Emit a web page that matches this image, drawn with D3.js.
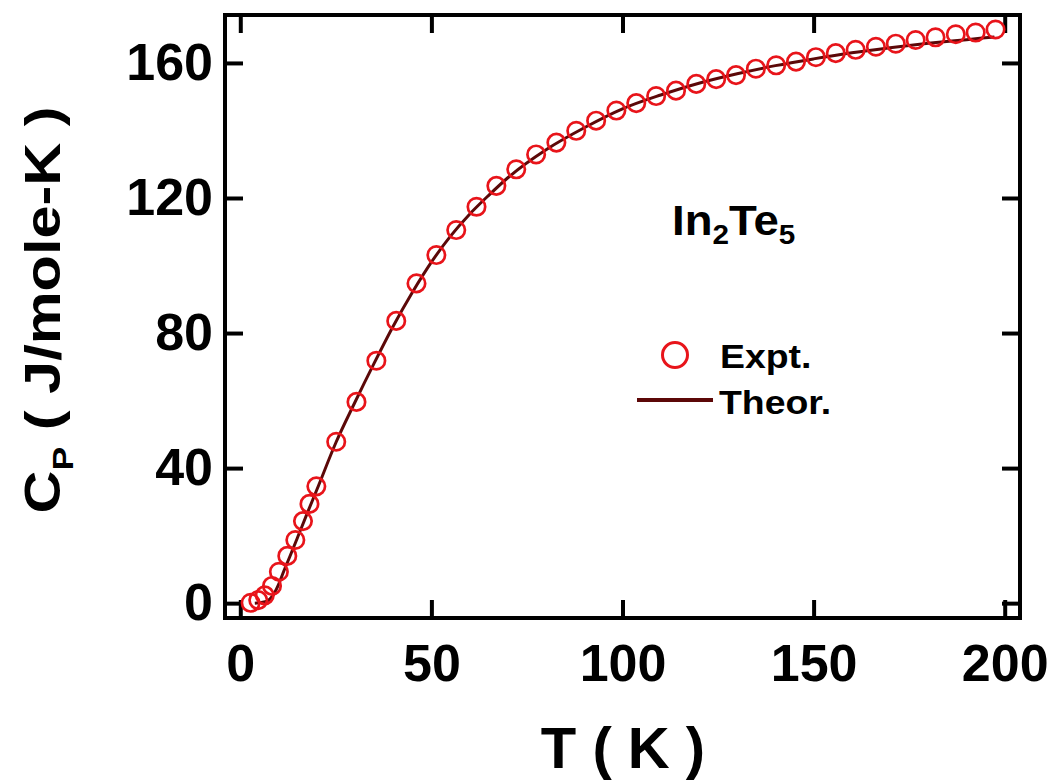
<!DOCTYPE html>
<html>
<head>
<meta charset="utf-8">
<script src="https://cdn.jsdelivr.net/npm/d3@7"></script>
<style>
  body { margin: 0; background: #fff; }
  svg text { font-family: "Liberation Sans", Arial, sans-serif; font-weight: bold; fill: #000; }
</style>
</head>
<body>
<div id="chart"></div>
<script>
// Experimental points (T in K, Cp in J/mole-K)
const tExpt = [2.7, 4.7, 6.4, 8.3, 10.1, 12.3, 14.4, 16.4, 18.1,
  19.9, 25.1, 30.4, 35.6, 40.8, 46.1, 51.3, 56.5, 61.8, 67.0, 72.2, 77.4,
  82.7, 87.9, 93.1, 98.4, 103.6, 108.8, 114.0, 119.3, 124.5, 129.7, 134.9,
  140.2, 145.4, 150.6, 155.8, 161.0, 166.3, 171.5, 176.7, 181.9, 187.2,
  192.4, 197.6];
const cpExpt = [0.1, 0.9, 2.3, 5.1, 9.3, 14.0, 18.7, 24.3, 29.4,
  34.6, 47.8, 59.6, 71.8, 83.6, 94.7, 103.1, 110.5, 117.4, 123.6, 128.5, 132.9,
  136.4, 139.9, 142.9, 145.9, 148.1, 150.2, 151.8, 153.8, 155.2, 156.4, 158.3,
  159.3, 160.4, 161.7, 162.9, 163.9, 164.8, 165.7, 166.8, 167.6, 168.5,
  169.0, 169.9];

// Theoretical curve
const tTheor = [3.8, 5.5, 7, 8.5, 10, 11.5, 13, 15, 17.5, 20, 25, 30, 35, 40,
  45, 50, 55, 60, 65, 70, 80, 90, 100, 110, 120, 130, 140, 150, 160, 170,
  180, 190, 197.3];
const cpTheor = [0, 0.2, 0.6, 2.2, 5.5, 9.8, 13.9, 19.5, 26.6, 33.5, 47.5,
  59.5, 71.0, 82.0, 92.0, 101.0, 108.7, 115.2, 120.8, 126.0, 134.3, 140.8,
  146.4, 150.5, 154.0, 156.8, 159.2, 161.2, 163.0, 164.5, 165.8, 166.9, 167.7];

const xTicks = [0, 50, 100, 150, 200];
const yTicks = [0, 40, 80, 120, 160];

const W = 1057, H = 782;
const margin = { top: 15, right: 37, bottom: 164, left: 225 };
const width = W - margin.left - margin.right;
const height = H - margin.top - margin.bottom;

const x = d3.scaleLinear().domain([-4, 204]).range([0, width]);
const y = d3.scaleLinear().domain([-4.4, 174.2]).range([height, 0]);

const svg = d3.select('#chart').append('svg')
  .attr('width', W)
  .attr('height', H);

const g = svg.append('g')
  .attr('transform', `translate(${margin.left},${margin.top})`);

const tickLen = 18;

// bottom axis with labels
const xAxis = g.append('g')
  .attr('transform', `translate(0,${height})`)
  .call(d3.axisBottom(x).tickValues(xTicks).tickSizeInner(-tickLen).tickSizeOuter(0).tickPadding(26));
// top axis, ticks only
const xAxisTop = g.append('g')
  .call(d3.axisTop(x).tickValues(xTicks).tickSizeInner(-tickLen).tickSizeOuter(0).tickFormat(''));
// left axis with labels
const yAxis = g.append('g')
  .call(d3.axisLeft(y).tickValues(yTicks).tickSizeInner(-tickLen).tickSizeOuter(0).tickPadding(12));
// right axis, ticks only
const yAxisRight = g.append('g')
  .attr('transform', `translate(${width},0)`)
  .call(d3.axisRight(y).tickValues(yTicks).tickSizeInner(-tickLen).tickSizeOuter(0).tickFormat(''));

[xAxis, xAxisTop, yAxis, yAxisRight].forEach(a => {
  a.select('.domain').remove();
  a.selectAll('.tick line').attr('stroke', '#000').attr('stroke-width', 4);
  a.selectAll('.tick text').attr('font-size', 52).attr('fill', '#000')
    .style('font-family', '"Liberation Sans", Arial, sans-serif').style('font-weight', 'bold');
});

// frame
g.append('rect')
  .attr('width', width)
  .attr('height', height)
  .attr('fill', 'none')
  .attr('stroke', '#000')
  .attr('stroke-width', 4);

// theoretical line
const theor = tTheor.map((t, i) => [t, cpTheor[i]]);
const line = d3.line()
  .x(d => x(d[0]))
  .y(d => y(d[1]))
  .curve(d3.curveMonotoneX);

g.append('path')
  .datum(theor)
  .attr('d', line)
  .attr('fill', 'none')
  .attr('stroke', '#5c0808')
  .attr('stroke-width', 3);

// experimental circles
const expt = tExpt.map((t, i) => [t, cpExpt[i]]);
g.selectAll('circle.expt')
  .data(expt)
  .enter()
  .append('circle')
  .attr('class', 'expt')
  .attr('cx', d => x(d[0]))
  .attr('cy', d => y(d[1]))
  .attr('r', 8.7)
  .attr('fill', 'none')
  .attr('stroke', '#e8141a')
  .attr('stroke-width', 2.7);

// compound label
const comp = svg.append('text')
  .attr('transform', 'translate(672,235) scale(1.06,1)')
  .attr('font-size', 43);
comp.append('tspan').text('In');
comp.append('tspan').attr('font-size', 28).attr('dy', 9).text('2');
comp.append('tspan').attr('dy', -9).text('Te');
comp.append('tspan').attr('font-size', 28).attr('dy', 9).text('5');

// legend
svg.append('circle')
  .attr('cx', 675).attr('cy', 355).attr('r', 12.5)
  .attr('fill', 'none').attr('stroke', '#e8141a').attr('stroke-width', 3);
svg.append('text')
  .attr('transform', 'translate(720,368) scale(1.1,1)')
  .attr('font-size', 34)
  .text('Expt.');
svg.append('line')
  .attr('x1', 637).attr('x2', 713).attr('y1', 400).attr('y2', 400)
  .attr('stroke', '#5c0808').attr('stroke-width', 4);
svg.append('text')
  .attr('transform', 'translate(719,414) scale(1.1,1)')
  .attr('font-size', 34)
  .text('Theor.');

// axis titles
svg.append('text')
  .attr('x', 623).attr('y', 768)
  .attr('text-anchor', 'middle')
  .attr('font-size', 58)
  .text('T ( K )');

const yt = svg.append('text')
  .attr('transform', 'translate(60,310) rotate(-90) scale(1.19,1)')
  .attr('text-anchor', 'middle')
  .attr('font-size', 50);
yt.append('tspan').text('C');
yt.append('tspan').attr('font-size', 30).attr('dy', 13).text('P');
yt.append('tspan').attr('dy', -13).text(' ( J/mole-K )');
</script>
</body>
</html>
